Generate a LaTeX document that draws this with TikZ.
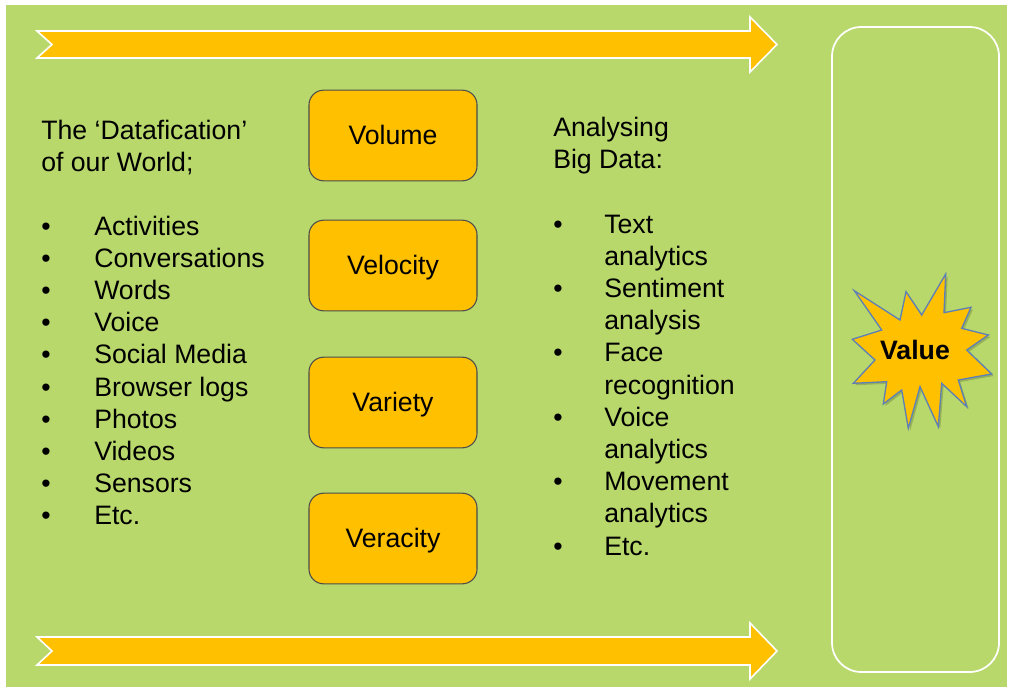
\documentclass[tikz,border=0pt]{standalone}
\usepackage{fontspec}
\setmainfont{Liberation Sans}
\definecolor{bg}{RGB}{184,216,107}
\definecolor{gold}{RGB}{255,192,0}
\definecolor{starline}{RGB}{95,128,180}
\tikzset{
 txt/.style={anchor=base west, inner sep=0pt, font=\fontsize{20}{24}\selectfont, text=black},
 vbox/.style={draw=black!70, line width=0.8pt, fill=gold, rounded corners=11pt, minimum width=126pt, minimum height=68pt, font=\fontsize{20}{24}\selectfont, inner sep=0pt, text height=14.4pt, text depth=0.4pt},
 band/.style={fill=gold, draw=white, line width=1.2pt, line join=miter},
 frame/.style={draw=white, line width=1.3pt, rounded corners=22pt},
}
\begin{document}
\begin{tikzpicture}[x=0.75pt,y=-0.75pt]
\useasboundingbox (0,0) rectangle (1009,689);
\fill[white] (0,0) rectangle (1009,689);
\fill[bg] (6,5) rectangle (1007,687);
% arrows
\draw[band] (37,31) -- (750,31) -- (750,17) -- (777,44.5) -- (750,72) -- (750,58) -- (37,58) -- (52,44.5) -- cycle;
\draw[band] (37,637) -- (750,637) -- (750,623) -- (777,651) -- (750,679) -- (750,665) -- (37,665) -- (52,651) -- cycle;
% value frame
\draw[frame] (832,27) rectangle (999,672);
% V boxes
\node[vbox] (vol) at (393,135.5) {Volume};
\node[vbox] (vel) at (393,265.5) {Velocity};
\node[vbox] (var) at (393,402.5) {Variety};
\node[vbox] (ver) at (393,538.5) {Veracity};
% left column
\node[txt] (lh1) at (41,139) {The ‘Datafication’};
\node[txt] (lh2) at (41,171) {of our World;};
\foreach \t [count=\i] in {Activities,Conversations,Words,Voice,Social Media,Browser logs,Photos,Videos,Sensors,Etc.}{
  \node[txt] (lb\i) at (41,{235.5+32.1*(\i-1)}) {•};
  \node[txt] (li\i) at (94,{235.5+32.1*(\i-1)}) {\t};
}
% right column
\node[txt] (rh1) at (553,136) {Analysing};
\node[txt] (rh2) at (553,168) {Big Data:};
\foreach \t [count=\i] in {Text,analytics,Sentiment,analysis,Face,recognition,Voice,analytics,Movement,analytics,Etc.}{
  \node[txt] (ri\i) at (604,{233+32.2*(\i-1)}) {\t};
}
\foreach \i in {1,3,5,7,9,11}{
  \node[txt] (rb\i) at (553,{233+32.2*(\i-1)}) {•};
}
% star
\def\starpath{(945.7,274) -- (944,312.7) -- (971,307.3) -- (961.7,328.3) -- (988.3,335) -- (966.7,350) -- (991.7,374) -- (958.3,380) -- (966.7,406.7) -- (941.7,383.3) -- (938.3,426.7) -- (920,386.7) -- (908.3,428.3) -- (901.7,390) -- (883.3,404) -- (886.7,381.7) -- (853.3,383.3) -- (875,360) -- (852.3,339.3) -- (881.7,330) -- (854.3,290.7) -- (900,320) -- (906,291.7) -- (921.7,315) -- cycle}
\begin{scope}[shift={(2,2)}]
\fill[black, opacity=0.18] \starpath;
\end{scope}
\filldraw[fill=gold, draw=starline, line width=1pt, line join=miter] \starpath;
\node[font=\bfseries\fontsize{20}{24}\selectfont, inner sep=0pt] (val) at (915,350) {Value};
\end{tikzpicture}
\end{document}
